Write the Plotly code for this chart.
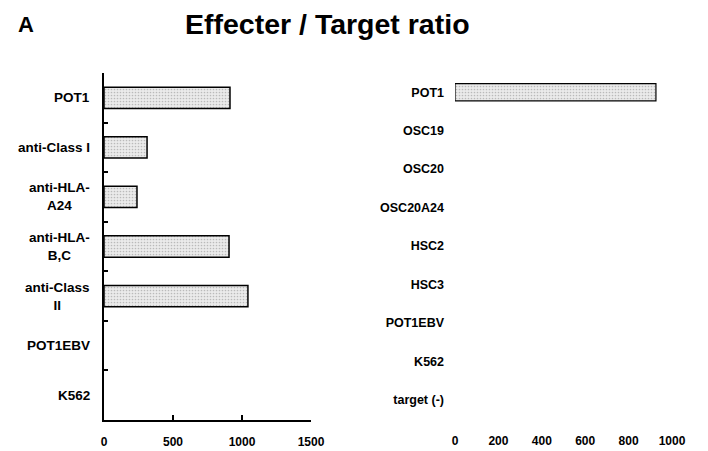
import plotly.graph_objects as go

W, H = 708, 451

# ---- data ----
left_categories = ["POT1", "anti-Class I", "anti-HLA-A24", "anti-HLA-B,C", "anti-Class II", "POT1EBV", "K562"]
left_labels = ["POT1", "anti-Class I", "anti-HLA-<br>A24", "anti-HLA-<br>B,C", "anti-Class<br>II", "POT1EBV", "K562"]
left_values = [913, 312, 239, 906, 1043, 0, 0]
left_ticks = [0, 500, 1000, 1500]

right_categories = ["POT1", "OSC19", "OSC20", "OSC20A24", "HSC2", "HSC3", "POT1EBV", "K562", "target (-)"]
right_values = [926, 0, 0, 0, 0, 0, 0, 0, 0]
right_ticks = [0, 200, 400, 600, 800, 1000]

FONT = "Liberation Sans, Arial, sans-serif"


def px(x):
    return x / W


def py(y):
    return (H - y) / H


pattern = dict(shape=".", size=3, solidity=0.25, fgcolor="#8a8a8a", bgcolor="#ebebeb")

fig = go.Figure()
fig.add_trace(go.Bar(
    y=left_categories, x=left_values, orientation="h", width=0.43,
    marker=dict(color="#ebebeb", pattern=pattern,
                line=dict(color="black", width=[1.5 if v > 0 else 0 for v in left_values])),
    xaxis="x", yaxis="y", showlegend=False, hoverinfo="skip",
))
fig.add_trace(go.Bar(
    y=right_categories, x=right_values, orientation="h", width=0.45,
    marker=dict(color="#ebebeb", pattern=pattern,
                line=dict(color="black", width=[1.2 if v > 0 else 0 for v in right_values])),
    xaxis="x2", yaxis="y2", showlegend=False, hoverinfo="skip",
))

tickfont = dict(family=FONT, size=12, color="black", weight="bold")

annotations = [
    dict(text="<b>A</b>", x=px(26), y=py(24), xref="paper", yref="paper",
         xanchor="center", yanchor="middle", showarrow=False,
         font=dict(family=FONT, size=22, color="black")),
    dict(text="<b>Effecter / Target ratio</b>", x=px(327), y=py(24), xref="paper", yref="paper",
         xanchor="center", yanchor="middle", showarrow=False,
         font=dict(family=FONT, size=28.5, color="black")),
]
for cat, lab in zip(left_categories, left_labels):
    annotations.append(dict(
        text="<b>" + lab + "</b>", x=px(92), y=cat, xref="paper", yref="y",
        xanchor="right", yanchor="middle", align="center", showarrow=False,
        font=dict(family=FONT, size=13.5, color="black")))

fig.update_layout(
    width=W, height=H,
    margin=dict(l=0, r=0, t=0, b=0),
    paper_bgcolor="white", plot_bgcolor="white",
    bargap=0.5,
    annotations=annotations,
    xaxis=dict(domain=[px(104), px(311)], range=[0, 1500], tickvals=left_ticks,
               showgrid=False, zeroline=False, showline=True, linecolor="black", linewidth=2,
               ticks="inside", ticklen=5, tickwidth=2, tickcolor="black",
               tickfont=tickfont, ticklabelstandoff=10, anchor="y", automargin=False),
    yaxis=dict(domain=[py(420), py(73)], categoryorder="array", categoryarray=left_categories,
               autorange="reversed", showgrid=False, zeroline=False, showline=True,
               linecolor="black", linewidth=2, ticks="inside", ticklen=4, tickwidth=2,
               tickcolor="black", tickson="boundaries", showticklabels=False, anchor="x",
               automargin=False),
    xaxis2=dict(domain=[px(455), px(672)], range=[0, 1000], tickvals=right_ticks,
                showgrid=False, zeroline=False, showline=False, ticks="",
                tickfont=tickfont, ticklabelstandoff=13, anchor="y2", automargin=False),
    yaxis2=dict(domain=[py(419), py(73)], categoryorder="array", categoryarray=right_categories,
                autorange="reversed", showgrid=False, zeroline=False, showline=False,
                ticks="", tickfont=dict(family=FONT, size=12.5, color="black", weight="bold"),
                ticklabelstandoff=10, anchor="x2", automargin=False),
)

post = ("document.documentElement.style.overflow='hidden';"
        "document.body.style.margin='0';document.body.style.overflow='hidden';")

fig.write_html("out.html", config={"responsive": False}, post_script=post)
